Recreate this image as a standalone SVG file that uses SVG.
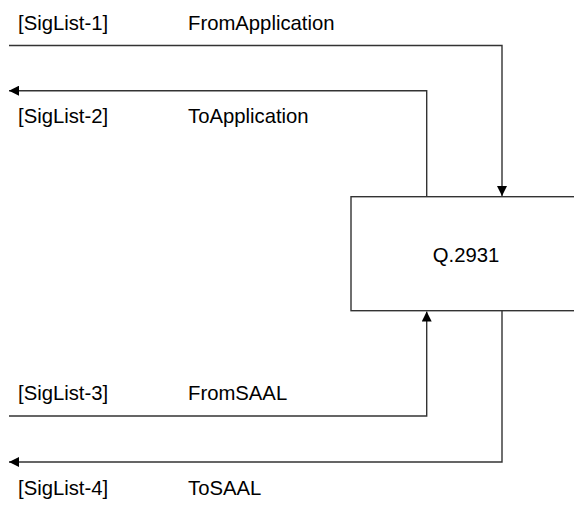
<svg xmlns="http://www.w3.org/2000/svg" width="574" height="505" viewBox="0 0 574 505">
<defs>
<style>
.t{font-family:"Liberation Sans",Arial,sans-serif;font-size:20.3px;fill:#000}
.c{fill:none;stroke:#333;stroke-width:1.4}
.b{fill:#fff;stroke:#333;stroke-width:1.4}
</style>
<marker id="ah" viewBox="0 0 10 10" refX="10" refY="5" markerWidth="10" markerHeight="10" markerUnits="userSpaceOnUse" orient="auto">
<path d="M0,0 L10,5 L0,10 Z" fill="#000"/>
</marker>
</defs>
<rect width="574" height="505" fill="#fff"/>
<g id="q2931">
<rect class="b" x="351" y="196.7" width="230" height="114"/>
<text class="t" x="466" y="262" text-anchor="middle">Q.2931</text>
</g>
<g id="connectors">
<path class="c" d="M9,45.5 H502 V196" marker-end="url(#ah)"/>
<path class="c" d="M426.7,196.7 V90.7 H9" marker-end="url(#ah)"/>
<path class="c" d="M9,416 H426.7 V311.5" marker-end="url(#ah)"/>
<path class="c" d="M502,310.7 V462 H9" marker-end="url(#ah)"/>
</g>
<g id="labels">
<text class="t" x="18" y="30">[SigList-1]</text>
<text class="t" x="188" y="30">FromApplication</text>
<text class="t" x="18" y="123">[SigList-2]</text>
<text class="t" x="188" y="123">ToApplication</text>
<text class="t" x="18" y="400">[SigList-3]</text>
<text class="t" x="188" y="400">FromSAAL</text>
<text class="t" x="18" y="495">[SigList-4]</text>
<text class="t" x="188" y="495">ToSAAL</text>
</g>
</svg>
